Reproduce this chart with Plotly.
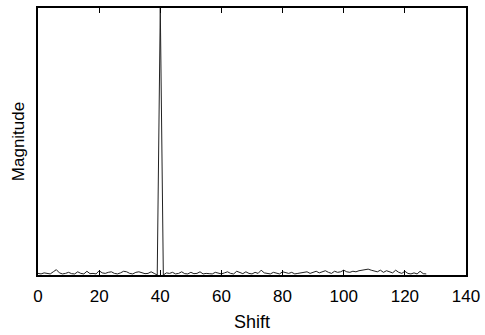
import plotly.graph_objects as go

shift = list(range(128))
magnitude = [
    0.006, 0.004, 0.008, 0.005, 0.004, 0.012, 0.020, 0.008, 0.004, 0.006,
    0.010, 0.005, 0.004, 0.012, 0.006, 0.004, 0.014, 0.005, 0.006, 0.004,
    0.016, 0.008, 0.006, 0.010, 0.012, 0.006, 0.004, 0.008, 0.014, 0.012,
    0.006, 0.004, 0.010, 0.012, 0.008, 0.005, 0.006, 0.012, 0.006, 0.000,
    1.000, 0.000, 0.008, 0.006, 0.010, 0.004, 0.006, 0.012, 0.005, 0.004,
    0.010, 0.005, 0.006, 0.012, 0.004, 0.006, 0.005, 0.004, 0.010, 0.006,
    0.004, 0.008, 0.012, 0.006, 0.004, 0.014, 0.010, 0.005, 0.012, 0.006,
    0.004, 0.010, 0.006, 0.018, 0.008, 0.005, 0.004, 0.010, 0.006, 0.004,
    0.012, 0.008, 0.006, 0.010, 0.004, 0.006, 0.008, 0.010, 0.012, 0.006,
    0.010, 0.014, 0.008, 0.012, 0.016, 0.010, 0.006, 0.014, 0.010, 0.012,
    0.018, 0.012, 0.010, 0.014, 0.012, 0.016, 0.018, 0.020, 0.022, 0.018,
    0.016, 0.012, 0.018, 0.010, 0.016, 0.012, 0.008, 0.018, 0.010, 0.006,
    0.014, 0.006, 0.004, 0.008, 0.004, 0.014, 0.005, 0.004,
]

x_ticks = [0, 20, 40, 60, 80, 100, 120, 140]

fig = go.Figure()
fig.add_trace(go.Scatter(
    x=shift, y=magnitude, mode="lines",
    line=dict(color="#222222", width=1),
    showlegend=False,
))

fig.update_layout(
    width=485, height=335,
    margin=dict(l=38, r=19, t=8, b=60),
    paper_bgcolor="white", plot_bgcolor="white",
    font=dict(family="Liberation Sans, Arial, sans-serif", size=17, color="black"),
    xaxis=dict(
        range=[0, 140], tickvals=x_ticks, ticks="inside", ticklen=5,
        tickcolor="black", showline=True, linecolor="black", linewidth=1.5,
        mirror="ticks", showgrid=False, zeroline=False, automargin=False,
        ticklabelstandoff=5,
        title=dict(text="Shift", standoff=10, font=dict(size=18)),
        tickfont=dict(size=17),
    ),
    yaxis=dict(
        range=[0, 1.0], showticklabels=False, ticks="",
        showline=True, linecolor="black", linewidth=1.5, mirror=True,
        showgrid=False, zeroline=False, automargin=False,
        title=dict(text="Magnitude", standoff=7, font=dict(size=17)),
    ),
)

fig.write_html(
    "out.html",
    config={"displayModeBar": False},
    post_script="document.body.style.margin='0';document.body.style.overflow='hidden';",
)
